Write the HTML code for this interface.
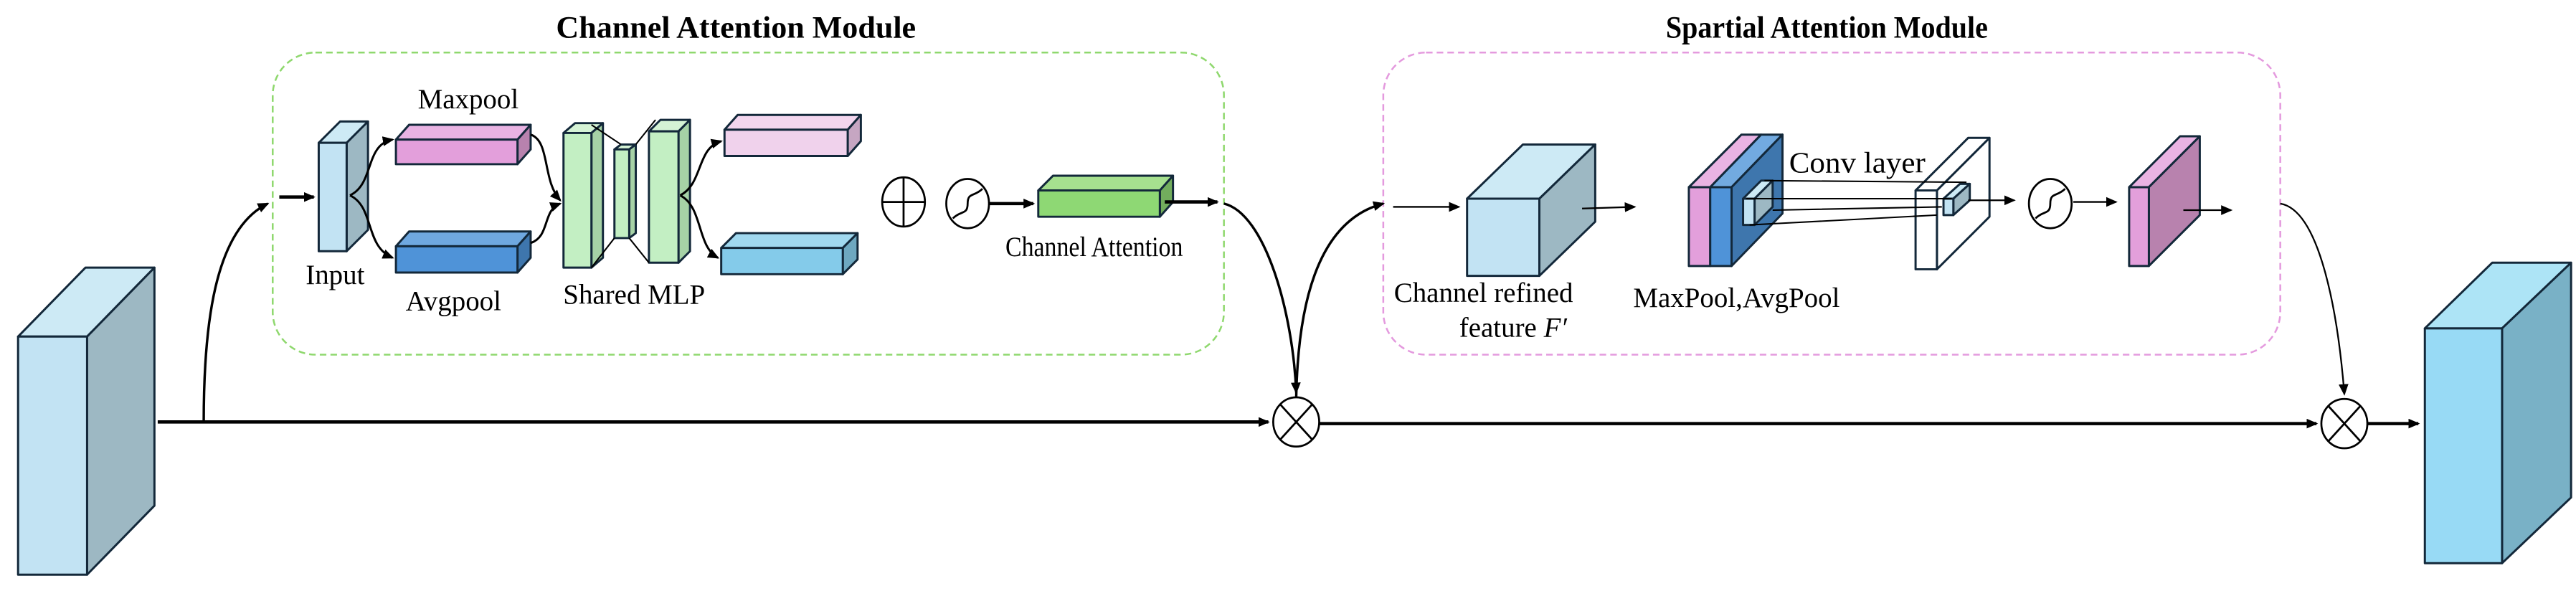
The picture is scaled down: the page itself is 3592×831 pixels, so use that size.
<!DOCTYPE html>
<html><head><meta charset="utf-8"><style>html,body{margin:0;padding:0;background:#fff}svg{display:block}text{font-family:"Liberation Serif",serif;fill:#000}</style></head>
<body>
<svg width="3592" height="831" viewBox="0 0 1568 363" preserveAspectRatio="none" xmlns="http://www.w3.org/2000/svg">
<defs>
<marker id="a" markerWidth="8" markerHeight="8" refX="6" refY="3" orient="auto" markerUnits="userSpaceOnUse"><path d="M0,0 L7,3 L0,6 Z" fill="#000"/></marker>
</defs>
<g stroke="#13283a" stroke-width="1.3" stroke-linejoin="round">
<polygon points="11,205 52,163 94,163 53,205" fill="#cdeaf5"/>
<polygon points="53,205 94,163 94,308 53,350" fill="#9db8c3"/>
<rect x="11" y="205" width="42" height="145" fill="#c2e3f3"/>
<polygon points="1476,200 1517,160 1565,160 1523,200" fill="#ade4f6"/>
<polygon points="1523,200 1565,160 1565,303 1523,343" fill="#79b1c6"/>
<rect x="1476" y="200" width="47" height="143" fill="#98daf5"/>
<polygon points="194,87 207,74 224,74 211,87" fill="#cdeaf5"/>
<polygon points="211,87 224,74 224,140 211,153" fill="#9db8c3"/>
<rect x="194" y="87" width="17" height="66" fill="#c2e3f3"/>
<polygon points="241,85 249,76 323,76 315,85" fill="#e9b3e3"/>
<polygon points="315,85 323,76 323,91 315,100" fill="#b882ae"/>
<rect x="241" y="85" width="74" height="15" fill="#e39fdb"/>
<polygon points="241,150 249,141 323,141 315,150" fill="#6fa8e0"/>
<polygon points="315,150 323,141 323,157 315,166" fill="#3e76ad"/>
<rect x="241" y="150" width="74" height="16" fill="#4f93d8"/>
<polygon points="343,81 350,75 367,75 360,81" fill="#d5f3d5"/>
<polygon points="360,81 367,75 367,157 360,163" fill="#a6d2a6"/>
<rect x="343" y="81" width="17" height="82" fill="#c3efc3"/>
<polygon points="374,91 378,88 387,88 383,91" fill="#d5f3d5"/>
<polygon points="383,91 387,88 387,142 383,145" fill="#a6d2a6"/>
<rect x="374" y="91" width="9" height="54" fill="#c3efc3"/>
<polygon points="395,80 402,73 420,73 413,80" fill="#d5f3d5"/>
<polygon points="413,80 420,73 420,153 413,160" fill="#a6d2a6"/>
<rect x="395" y="80" width="18" height="80" fill="#c3efc3"/>
<polygon points="441,79 449,70 524,70 516,79" fill="#f3d6ee"/>
<polygon points="516,79 524,70 524,86 516,95" fill="#c6a6c2"/>
<rect x="441" y="79" width="75" height="16" fill="#f0d2ec"/>
<polygon points="439,151 448,142 522,142 513,151" fill="#a0d8ef"/>
<polygon points="513,151 522,142 522,158 513,167" fill="#6ea8c0"/>
<rect x="439" y="151" width="74" height="16" fill="#84cbea"/>
<polygon points="632,116 641,107 714,107 706,116" fill="#a6e08f"/>
<polygon points="706,116 714,107 714,123 706,132" fill="#72ad5d"/>
<rect x="632" y="116" width="74" height="16" fill="#8ed874"/>
<polygon points="893,121 927,88 971,88 937,121" fill="#cdeaf5"/>
<polygon points="937,121 971,88 971,135 937,168" fill="#9db8c3"/>
<rect x="893" y="121" width="44" height="47" fill="#c2e3f3"/>
<polygon points="1028,114 1060,82 1072,82 1041,114" fill="#e9b3e3"/>
<polygon points="1041,114 1072,82 1085,82 1054,114" fill="#72aae0"/>
<polygon points="1054,114 1085,82 1085,130 1054,162" fill="#3e76ad"/>
<rect x="1028" y="114" width="13" height="48" fill="#e39fdb"/>
<rect x="1041" y="114" width="13" height="48" fill="#4f93d8"/>
<polygon points="1061,121 1072,110 1079,110 1068,121" fill="#cdeaf5"/>
<polygon points="1068,121 1079,110 1079,126 1068,137" fill="#9db8c3"/>
<rect x="1061" y="121" width="7" height="16" fill="#c2e3f3"/>
<polygon points="1166,116 1198,84 1211,84 1179,116" fill="#fff"/>
<polygon points="1179,116 1211,84 1211,132 1179,164" fill="#fff"/>
<rect x="1166" y="116" width="13" height="48" fill="#fff"/>
<polygon points="1183,121 1193,112 1199,112 1189,121" fill="#cdeaf5"/>
<polygon points="1189,121 1199,112 1199,122 1189,131" fill="#9db8c3"/>
<rect x="1183" y="121" width="6" height="10" fill="#c2e3f3"/>
<polygon points="1296,114 1327,83 1339,83 1308,114" fill="#e9b3e3"/>
<polygon points="1308,114 1339,83 1339,131 1308,162" fill="#b882ae"/>
<rect x="1296" y="114" width="12" height="48" fill="#e39fdb"/>
</g>
<g stroke="#000" stroke-width="0.9" fill="none">
<path d="M360,76 L378,88 M387,88 L399,73 M360,163 L374,145 M383,145 L395,160"/>
<path d="M1074,110 L1197,111 M1063,121 L1188,121 M1079,128 L1182,126 M1065,137 L1179,131"/>
</g>
<rect x="166" y="32" width="579" height="184" rx="26" fill="none" stroke="#8fd86e" stroke-width="1.1" stroke-dasharray="4,2.5"/>
<rect x="842" y="32" width="546" height="184" rx="26" fill="none" stroke="#e49ade" stroke-width="1.1" stroke-dasharray="4,2.5"/>
<g stroke="#000" stroke-width="1.2" fill="none">
<ellipse cx="550" cy="123" rx="13" ry="15"/><path d="M550,108 V138 M537,123 H563"/>
<ellipse cx="589" cy="124" rx="13" ry="15"/><path d="M580,133 C585,128 589,131 589,124 C589,117 593,120 598,115"/>
<ellipse cx="1248" cy="124" rx="13" ry="15"/><path d="M1239,133 C1244,128 1248,131 1248,124 C1248,117 1252,120 1257,115"/>
<ellipse cx="789" cy="257" rx="14" ry="15"/><path d="M779,246 L799,268 M799,246 L779,268"/>
<ellipse cx="1427" cy="258" rx="14" ry="15"/><path d="M1417,247 L1437,269 M1437,247 L1417,269"/>
</g>
<g stroke="#000" fill="none">
<path d="M96,257 L772,257" stroke-width="2" marker-end="url(#a)"/>
<path d="M803,258 L1410,258" stroke-width="2" marker-end="url(#a)"/>
<path d="M1441,258 L1472,258" stroke-width="2" marker-end="url(#a)"/>
<path d="M124,257 C124,200 130,140 163,124" stroke-width="1.5" marker-end="url(#a)"/>
<path d="M170,120 L191,120" stroke-width="2" marker-end="url(#a)"/>
<path d="M213,119 C228,112 222,88 239,85" stroke-width="1.3" marker-end="url(#a)"/>
<path d="M213,119 C228,126 222,150 239,157" stroke-width="1.3" marker-end="url(#a)"/>
<path d="M323,82 C335,86 330,110 341,122" stroke-width="1.3" marker-end="url(#a)"/>
<path d="M323,148 C335,144 330,128 341,124" stroke-width="1.3" marker-end="url(#a)"/>
<path d="M414,119 C428,112 424,90 439,86" stroke-width="1.3" marker-end="url(#a)"/>
<path d="M414,119 C428,126 424,150 437,157" stroke-width="1.3" marker-end="url(#a)"/>
<path d="M602,124 L629,124" stroke-width="2" marker-end="url(#a)"/>
<path d="M709,123 L741,123" stroke-width="2" marker-end="url(#a)"/>
<path d="M745,124 C770,130 787,190 789,239" stroke-width="1.5" marker-end="url(#a)"/>
<path d="M789,242 C790,190 800,135 842,124" stroke-width="1.5" marker-end="url(#a)"/>
<path d="M848,126 L888,126" stroke-width="1" marker-end="url(#a)"/>
<path d="M963,127 L995,126" stroke-width="1" marker-end="url(#a)"/>
<path d="M1198,122 L1226,122" stroke-width="1" marker-end="url(#a)"/>
<path d="M1262,123 L1288,123" stroke-width="1" marker-end="url(#a)"/>
<path d="M1329,128 L1358,128" stroke-width="1" marker-end="url(#a)"/>
<path d="M1388,124 C1412,128 1423,190 1427,240" stroke-width="1" marker-end="url(#a)"/>
</g>
<text x="448" y="23" font-size="19" font-weight="bold" text-anchor="middle" textLength="219" lengthAdjust="spacingAndGlyphs">Channel Attention Module</text>
<text x="1112" y="23" font-size="19" font-weight="bold" text-anchor="middle" textLength="196" lengthAdjust="spacingAndGlyphs">Spartial Attention Module</text>
<g font-size="17">
<text x="285" y="66" text-anchor="middle">Maxpool</text>
<text x="204" y="173" text-anchor="middle">Input</text>
<text x="276" y="189" text-anchor="middle">Avgpool</text>
<text x="386" y="185" text-anchor="middle">Shared MLP</text>
<text x="666" y="156" text-anchor="middle" textLength="108" lengthAdjust="spacingAndGlyphs">Channel Attention</text>
<text x="903" y="184" text-anchor="middle">Channel refined</text>
<text x="921" y="205" text-anchor="middle">feature <tspan font-style="italic">F′</tspan></text>
<text x="1057" y="187" text-anchor="middle">MaxPool,AvgPool</text>
<text x="1089" y="105" font-size="18" textLength="83" lengthAdjust="spacingAndGlyphs">Conv layer</text>
</g>
</svg>
</body></html>
